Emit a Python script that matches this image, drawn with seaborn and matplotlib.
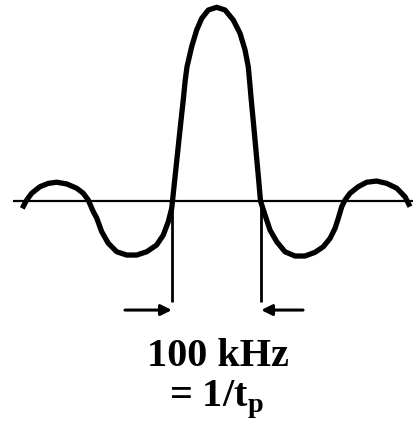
import matplotlib
matplotlib.use('Agg')
import matplotlib.pyplot as plt
import seaborn as sns
import pandas as pd

# curve points: frequency offset (kHz) and relative amplitude
freq_khz = [-220.7, -215.7, -210.0, -200.6, -191.1, -181.6, -170.2, -158.9, -151.4,
            -145.7, -140.0, -136.1, -130.5, -123.0, -113.4, -102.0, -90.7, -79.3,
            -68.0, -60.5, -54.8, -50.9, -50.0, -46.9, -43.9, -40.9, -37.8, -35.5,
            -33.5, -28.2, -22.5, -16.8, -9.3, 0.2, 9.7, 19.1, 26.7, 32.4, 36.1,
            37.5, 39.5, 42.2, 44.8, 47.4, 50.0, 55.1, 60.8, 68.4, 77.8, 89.2, 100.6,
            111.9, 121.4, 129.0, 134.7, 138.4, 142.3, 146.0, 151.7, 161.1, 170.7,
            182.0, 193.4, 204.8, 214.2, 219.9]
amplitude = [-0.038, 0.005, 0.040, 0.074, 0.091, 0.097, 0.088, 0.066, 0.040,
             0.005, -0.055, -0.088, -0.158, -0.218, -0.262, -0.279, -0.279, -0.262,
             -0.227, -0.176, -0.107, -0.038, 0.0, 0.134, 0.263, 0.392, 0.521, 0.625,
             0.693, 0.797, 0.883, 0.943, 0.986, 1.0, 0.986, 0.934, 0.866, 0.780,
             0.693, 0.625, 0.521, 0.392, 0.263, 0.134, 0.0, -0.072, -0.150, -0.210,
             -0.262, -0.284, -0.284, -0.265, -0.236, -0.193, -0.141, -0.089, -0.029,
             0.005, 0.040, 0.074, 0.097, 0.103, 0.091, 0.066, 0.022, -0.029]

zero_crossings = [-50.0, 50.0]   # first nulls, 100 kHz apart
label_line1 = '100 kHz'
label_line2 = r'= 1/t$_{\mathbf{p}}$'

df = pd.DataFrame({'freq': freq_khz, 'amp': amplitude})

sns.set_style('white')
plt.rcParams['font.family'] = ['Liberation Serif', 'DejaVu Serif']
plt.rcParams['mathtext.fontset'] = 'custom'
plt.rcParams['mathtext.bf'] = 'Liberation Serif:bold'
plt.rcParams['mathtext.rm'] = 'Liberation Serif'

fig = plt.figure(figsize=(4.14, 4.25), dpi=100)
ax = fig.add_axes([0, 0, 1, 1])
ax.set_xlim(-246.0, 224.4)
ax.set_ylim(-1.1564, 1.0377)
ax.axis('off')

# baseline
ax.plot([-231.2, 224.4], [0, 0], color='black', lw=1.6, solid_capstyle='butt')

sns.lineplot(data=df, x='freq', y='amp', sort=False, color='black', lw=3.8, ax=ax,
             solid_joinstyle='round', solid_capstyle='butt')

# markers at the first nulls
for xc in zero_crossings:
    ax.plot([xc, xc], [0, -0.521], color='black', lw=2.0, solid_capstyle='butt')

arrow_y = -0.563
ax.annotate('', xy=(zero_crossings[0] - 0.8, arrow_y), xytext=(-104, arrow_y),
            arrowprops=dict(arrowstyle='-|>', color='black', lw=2.2, mutation_scale=16,
                            shrinkA=0, shrinkB=0))
ax.annotate('', xy=(zero_crossings[1] + 0.8, arrow_y), xytext=(98.3, arrow_y),
            arrowprops=dict(arrowstyle='-|>', color='black', lw=2.2, mutation_scale=16,
                            shrinkA=0, shrinkB=0))

ax.text(2, -0.852, label_line1, ha='center', va='baseline', fontsize=29,
        fontweight='bold', color='black')
ax.text(0, -1.062, label_line2, ha='center', va='baseline', fontsize=29,
        fontweight='bold', color='black')

fig.savefig('out.png', dpi=100)
